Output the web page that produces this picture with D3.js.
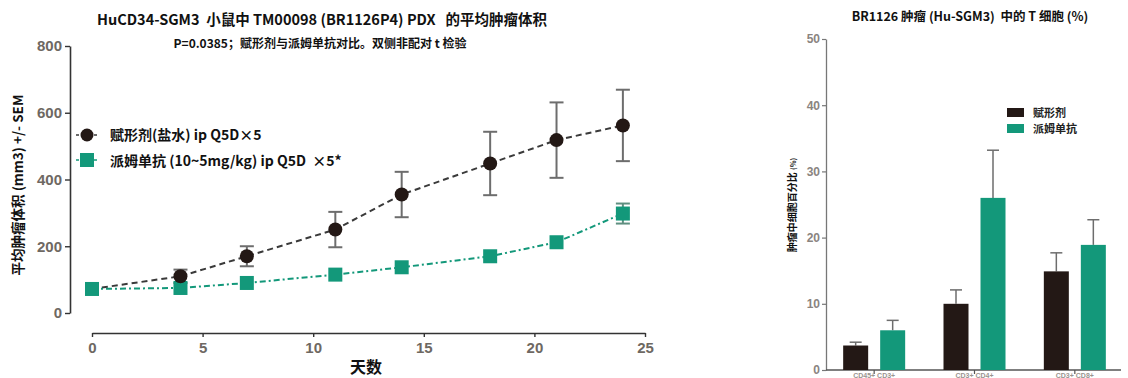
<!DOCTYPE html>
<html>
<head>
<meta charset="utf-8">
<script src="https://cdn.jsdelivr.net/npm/d3@7"></script>
<style>
  html, body { margin: 0; padding: 0; background: #fff; }
  svg { display: block; }
  text { font-family: "Noto Sans CJK SC", "Noto Sans", sans-serif; white-space: pre; }
  .num { font-family: "Liberation Sans", Arial, sans-serif; font-weight: bold; fill: #6e6862; }
</style>
</head>
<body>
<svg id="chart" width="1128" height="378"></svg>
<script>
// Tumour growth: days of measurement and mean volumes (mm3) with SEM
const days = [0, 4, 7, 11, 14, 18, 21, 24];
const vehicleMean = [72, 110, 170, 250, 355, 448, 518, 562];
const vehicleSem  = [10, 20, 30, 53, 68, 95, 113, 107];
const treatedMean = [72, 75, 90, 115, 137, 170, 212, 298];
const treatedSem  = [6, 5, 6, 7, 8, 9, 10, 30];
const volumeTicks = [0, 200, 400, 600, 800];
const dayTicks = [0, 5, 10, 15, 20, 25];

// T-cell fractions in tumour (%)
const cellGroups = ["CD45+ CD3+", "CD3+ CD4+", "CD3+ CD8+"];
const vehiclePct = [3.7, 10.0, 14.9];
const vehiclePctErr = [0.5, 2.1, 2.8];
const treatedPct = [6.0, 26.0, 18.9];
const treatedPctErr = [1.5, 7.2, 3.8];
const pctTicks = [0, 10, 20, 30, 40, 50];

const dark = "#231815";
const green = "#13987a";
const errGrey = "#6d6d6d";

const svg = d3.select("#chart");

// ---------- Left: tumour volume over time ----------
const x = d3.scaleLinear().domain([0, 25]).range([92, 645]);
const y = d3.scaleLinear().domain([0, 800]).range([313, 46]);

const yAxis = svg.append("g")
  .attr("transform", "translate(70,0)")
  .call(d3.axisLeft(y).tickValues(volumeTicks).tickSize(5).tickSizeOuter(0).tickPadding(3));
yAxis.select(".domain").attr("stroke", "#333").attr("stroke-width", 1.6);
yAxis.selectAll(".tick line").attr("stroke", "#333").attr("stroke-width", 1.4);
yAxis.selectAll(".tick text").attr("class", "num").style("font-size", "15px");

const xAxis = svg.append("g")
  .attr("transform", "translate(0,333)")
  .call(d3.axisBottom(x).tickValues(dayTicks).tickSize(4).tickSizeOuter(0).tickPadding(5));
xAxis.select(".domain").attr("stroke", "#333").attr("stroke-width", 1.6);
xAxis.selectAll(".tick line").attr("stroke", "#333").attr("stroke-width", 1.4);
xAxis.selectAll(".tick text").attr("class", "num").style("font-size", "15px");

const vehicleData = days.map((d, i) => ({ d, m: vehicleMean[i], s: vehicleSem[i] }));
const treatedData = days.map((d, i) => ({ d, m: treatedMean[i], s: treatedSem[i] }));

const line = d3.line().x(p => x(p.d)).y(p => y(p.m));

svg.append("path").datum(vehicleData).attr("d", line)
  .attr("fill", "none").attr("stroke", "#3a3a3a").attr("stroke-width", 2).attr("stroke-dasharray", "6,4");
svg.append("path").datum(treatedData).attr("d", line)
  .attr("fill", "none").attr("stroke", green).attr("stroke-width", 2).attr("stroke-dasharray", "6,3,2,3");

function errorBars(data, color) {
  const g = svg.append("g").attr("stroke", color).attr("stroke-width", 2).attr("fill", "none");
  data.forEach(p => {
    if (p.s <= 0) return;
    const cx = x(p.d);
    g.append("line").attr("x1", cx).attr("x2", cx).attr("y1", y(p.m - p.s)).attr("y2", y(p.m + p.s));
    g.append("line").attr("x1", cx - 7).attr("x2", cx + 7).attr("y1", y(p.m + p.s)).attr("y2", y(p.m + p.s));
    g.append("line").attr("x1", cx - 7).attr("x2", cx + 7).attr("y1", y(p.m - p.s)).attr("y2", y(p.m - p.s));
  });
}
errorBars(vehicleData.filter(p => p.d > 0), errGrey);
errorBars(treatedData.filter(p => p.d === 24), "#5f8f80");

svg.append("g").selectAll("rect").data(treatedData).join("rect")
  .attr("x", p => x(p.d) - 7).attr("y", p => y(p.m) - 7)
  .attr("width", 14).attr("height", 14).attr("fill", green);
svg.append("g").selectAll("circle").data(vehicleData.filter(p => p.d > 0)).join("circle")
  .attr("cx", p => x(p.d)).attr("cy", p => y(p.m)).attr("r", 7).attr("fill", dark);

// legend
svg.append("line").attr("x1", 76).attr("x2", 98).attr("y1", 135).attr("y2", 135)
  .attr("stroke", "#3a3a3a").attr("stroke-width", 1.5).attr("stroke-dasharray", "3,3");
svg.append("circle").attr("cx", 87).attr("cy", 135).attr("r", 6.5).attr("fill", dark);
svg.append("line").attr("x1", 76).attr("x2", 98).attr("y1", 160).attr("y2", 160)
  .attr("stroke", green).attr("stroke-width", 1.5).attr("stroke-dasharray", "3,3");
svg.append("rect").attr("x", 80).attr("y", 153).attr("width", 14).attr("height", 14).attr("fill", green);
svg.append("text").attr("x", 110).attr("y", 140).attr("font-size", 14).attr("font-weight", "bold").attr("fill", "#111")
  .text("赋形剂(盐水) ip Q5D×5");
svg.append("text").attr("x", 110).attr("y", 166).attr("font-size", 14).attr("font-weight", "bold").attr("fill", "#111")
  .text("派姆单抗 (10~5mg/kg) ip Q5D  ×5*");

// titles and axis labels
svg.append("text").attr("x", 322).attr("y", 25).attr("text-anchor", "middle")
  .attr("font-size", 14.5).attr("font-weight", "bold").attr("fill", "#111")
  .text("HuCD34-SGM3  小鼠中 TM00098 (BR1126P4) PDX   的平均肿瘤体积");
svg.append("text").attr("x", 320).attr("y", 48).attr("text-anchor", "middle")
  .attr("font-size", 12).attr("font-weight", "bold").attr("fill", "#111")
  .text("P=0.0385；赋形剂与派姆单抗对比。双侧非配对 t 检验");
svg.append("text").attr("transform", "translate(23,185) rotate(-90)").attr("text-anchor", "middle")
  .attr("font-size", 13.5).attr("font-weight", "bold").attr("fill", "#111")
  .text("平均肿瘤体积 (mm3) +/- SEM");
svg.append("text").attr("x", 366).attr("y", 373).attr("text-anchor", "middle")
  .attr("font-size", 16).attr("font-weight", "bold").attr("fill", "#111")
  .text("天数");

// ---------- Right: T-cell percentage bars ----------
const xb = d3.scaleBand().domain(cellGroups).range([826, 1127]).paddingInner(0).paddingOuter(0.0);
const yb = d3.scaleLinear().domain([0, 50]).range([370, 39]);
const barW = 25;
const offV = -31, offT = 6; // bar offsets from group centre

const ybAxis = svg.append("g")
  .attr("transform", "translate(826,0)")
  .call(d3.axisLeft(yb).tickValues(pctTicks).tickSize(4).tickSizeOuter(0).tickPadding(2));
ybAxis.select(".domain").attr("stroke", "#777").attr("stroke-width", 1.3);
ybAxis.selectAll(".tick line").attr("stroke", "#777").attr("stroke-width", 1.2);
ybAxis.selectAll(".tick text").attr("class", "num").style("font-size", "12px").style("fill", "#8a8480");

const centre = g => xb(g) + xb.bandwidth() / 2 - 2;
const xbAxis = svg.append("g").attr("transform", "translate(0,370)");
xbAxis.append("line").attr("x1", 826).attr("x2", 1121).attr("y1", 0).attr("y2", 0)
  .attr("stroke", "#555").attr("stroke-width", 1.5);
cellGroups.forEach(g => {
  xbAxis.append("line").attr("x1", centre(g)).attr("x2", centre(g)).attr("y1", 0).attr("y2", 4)
    .attr("stroke", "#555").attr("stroke-width", 1.2);
  xbAxis.append("text").attr("x", centre(g)).attr("y", 7.5).attr("text-anchor", "middle")
    .attr("class", "num").style("font-size", "7px").style("fill", "#9a9490").text(g);
});

function bars(values, errs, off, color) {
  const g = svg.append("g");
  g.selectAll("line.err").data(cellGroups).join("line")
    .attr("x1", c => centre(c) + off + barW / 2).attr("x2", c => centre(c) + off + barW / 2)
    .attr("y1", (c, i) => yb(values[i])).attr("y2", (c, i) => yb(values[i] + errs[i]))
    .attr("stroke", errGrey).attr("stroke-width", 1.5);
  g.selectAll("line.cap").data(cellGroups).join("line")
    .attr("x1", c => centre(c) + off + barW / 2 - 6).attr("x2", c => centre(c) + off + barW / 2 + 6)
    .attr("y1", (c, i) => yb(values[i] + errs[i])).attr("y2", (c, i) => yb(values[i] + errs[i]))
    .attr("stroke", errGrey).attr("stroke-width", 1.5);
  g.selectAll("rect").data(cellGroups).join("rect")
    .attr("x", c => centre(c) + off).attr("width", barW)
    .attr("y", (c, i) => yb(values[i])).attr("height", (c, i) => yb(0) - yb(values[i]))
    .attr("fill", color);
}
bars(vehiclePct, vehiclePctErr, offV, dark);
bars(treatedPct, treatedPctErr, offT, green);

// legend
svg.append("rect").attr("x", 1007).attr("y", 108).attr("width", 17).attr("height", 9).attr("fill", dark);
svg.append("rect").attr("x", 1007).attr("y", 124).attr("width", 17).attr("height", 9).attr("fill", green);
svg.append("text").attr("x", 1033).attr("y", 117).attr("font-size", 11).attr("font-weight", "bold").attr("fill", "#222").text("赋形剂");
svg.append("text").attr("x", 1033).attr("y", 133).attr("font-size", 11).attr("font-weight", "bold").attr("fill", "#222").text("派姆单抗");

svg.append("text").attr("x", 970).attr("y", 21).attr("text-anchor", "middle")
  .attr("font-size", 12.5).attr("font-weight", "bold").attr("fill", "#111")
  .text("BR1126 肿瘤 (Hu-SGM3)  中的 T 细胞 (%)");
const yl = svg.append("text").attr("transform", "translate(796,205) rotate(-90)").attr("text-anchor", "middle")
  .attr("font-weight", "bold").attr("fill", "#111");
yl.append("tspan").attr("font-size", 10).text("肿瘤中细胞百分比 ");
yl.append("tspan").attr("font-size", 7).text("(%)");
</script>
</body>
</html>
